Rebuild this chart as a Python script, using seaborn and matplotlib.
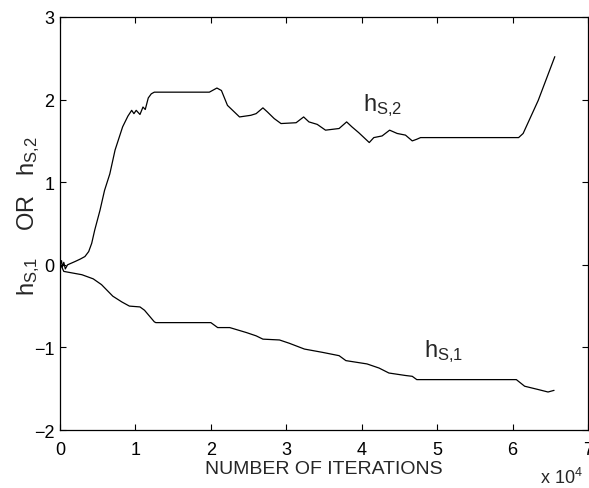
# h_S,1 and h_S,2 against number of iterations

import pandas as pd
import seaborn as sns
import matplotlib.pyplot as plt

# iterations in units of 10^4
x_s2 = [0, 0.02, 0.03, 0.05, 0.07, 0.1, 0.2, 0.27, 0.33, 0.38, 0.42, 0.46, 0.53, 0.59,
        0.66, 0.73, 0.83, 0.90, 0.95, 0.98, 1.01, 1.06, 1.10, 1.13, 1.17, 1.21, 1.25,
        1.98, 2.08, 2.14, 2.22, 2.38, 2.53, 2.60, 2.69, 2.75, 2.84, 2.93, 3.13, 3.23,
        3.30, 3.41, 3.52, 3.70, 3.80, 3.87, 3.96, 4.10, 4.16, 4.27, 4.37, 4.47, 4.58,
        4.67, 4.73, 4.78, 6.08, 6.14, 6.34, 6.56]
h_s2 = [0, 0.05, -0.03, 0.03, -0.05, 0.0, 0.04, 0.07, 0.10, 0.16, 0.26, 0.42, 0.66, 0.90,
        1.10, 1.39, 1.67, 1.80, 1.87, 1.83, 1.87, 1.82, 1.91, 1.88, 2.02, 2.07, 2.09,
        2.09, 2.14, 2.11, 1.93, 1.79, 1.81, 1.83, 1.90, 1.85, 1.77, 1.71, 1.72, 1.79,
        1.73, 1.70, 1.63, 1.65, 1.73, 1.67, 1.60, 1.48, 1.54, 1.56, 1.63, 1.59, 1.57,
        1.50, 1.52, 1.54, 1.54, 1.59, 1.99, 2.52]

x_s1 = [0, 0.02, 0.05, 0.11, 0.29, 0.44, 0.55, 0.70, 0.82, 0.92, 1.06, 1.12, 1.25, 1.27,
        2.0, 2.09, 2.25, 2.47, 2.60, 2.69, 2.91, 3.04, 3.24, 3.48, 3.70, 3.79, 4.07,
        4.23, 4.36, 4.58, 4.67, 4.73, 6.05, 6.16, 6.34, 6.47, 6.55]
h_s1 = [0, -0.02, -0.08, -0.09, -0.12, -0.17, -0.24, -0.38, -0.45, -0.50, -0.51, -0.55,
        -0.69, -0.70, -0.70, -0.76, -0.76, -0.82, -0.86, -0.90, -0.91, -0.95, -1.02,
        -1.06, -1.10, -1.16, -1.20, -1.25, -1.31, -1.34, -1.35, -1.39, -1.39, -1.47,
        -1.51, -1.54, -1.52]

df = pd.concat([
    pd.DataFrame({"iter": x_s2, "h": h_s2, "serie": "s2"}),
    pd.DataFrame({"iter": x_s1, "h": h_s1, "serie": "s1"}),
])

sns.set_style("ticks")
plt.rcParams["font.family"] = ["Liberation Sans", "DejaVu Sans"]
plt.rcParams["mathtext.default"] = "regular"

fig = plt.figure(figsize=(5.89, 4.89), dpi=100)
ax = fig.add_axes([0.1019, 0.1186, 0.8964, 0.8446])

sns.lineplot(data=df, x="iter", y="h", hue="serie", units="serie", estimator=None,
             sort=False, palette={"s1": "black", "s2": "black"}, linewidth=0.9,
             legend=False, ax=ax)

ax.set_xlim(0, 7)
ax.set_ylim(-2, 3)
ax.set_xticks(range(0, 8))
ax.set_yticks(range(-2, 4))
ax.tick_params(direction="in", top=True, right=True, labelsize=13, length=4,
               width=0.8, colors="black")
ax.tick_params(axis="x", pad=8)
ax.tick_params(axis="y", pad=4)
for s in ax.spines.values():
    s.set_visible(True)
    s.set_linewidth(0.9)
    s.set_color("black")

ax.set_xlabel("NUMBER OF ITERATIONS", fontsize=14, labelpad=1)
ax.set_ylabel(r"$h_{S{,}1}$    OR   $h_{S{,}2}$", fontsize=17)
ax.yaxis.set_label_coords(-0.034, 0.52)

ax.text(4.02, 1.87, r"$h_{S{,}2}$", fontsize=17)
ax.text(4.82, -1.10, r"$h_{S{,}1}$", fontsize=17)
fig.text(0.917, 0.003, r"x 10$^4$", fontsize=13, va="bottom")

plt.savefig("out.png", dpi=100)
